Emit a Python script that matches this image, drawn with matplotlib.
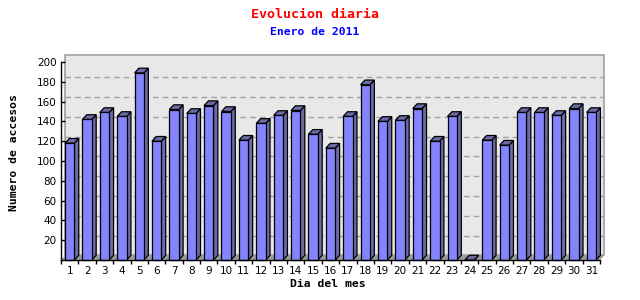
import matplotlib
matplotlib.use("Agg")
import matplotlib.pyplot as plt
from matplotlib.patches import Polygon, Rectangle
import numpy as np

days = list(range(1, 32))
day_labels = [str(d) for d in days]
visits = [118, 142, 149, 145, 189, 120, 152, 148, 156, 150,
          121, 138, 146, 151, 127, 113, 145, 177, 140, 141,
          153, 120, 145, 0, 121, 116, 149, 149, 146, 153, 149]
y_ticks = [20, 40, 60, 80, 100, 120, 140, 160, 180, 200]

title = "Evolucion diaria"
subtitle = "Enero de 2011"
xlabel = "Dia del mes"
ylabel = "Numero de accesos"

W, H = 640, 300
fig = plt.figure(figsize=(W / 100, H / 100), dpi=100)
fig.patch.set_facecolor("white")

# front plane of the plot area in pixels
x0, x1 = 61, 600
y_zero, y_top = 260, 62
ax = fig.add_axes([x0 / W, (H - y_zero) / H, (x1 - x0) / W, (y_zero - y_top) / H])
ax.set_xlim(0.5, 31.5)
ax.set_ylim(0, 200)
ax.set_facecolor("none")

sx = 31.0 / (x1 - x0)      # data units per pixel, x
sy = 200.0 / (y_zero - y_top)  # data units per pixel, y
dx, dy = 4.4 * sx, 4.7 * sy

# back panel
back = Rectangle((0.5 + dx, dy), 31 + 0.0, 200 + 6.7 * sy - dy + 0.0,
                 facecolor="#E8E8E8", edgecolor="#A0A0A0", lw=1.2,
                 clip_on=False, zorder=0)
ax.add_patch(back)
# dashed grid on back panel
for v in y_ticks[:-1]:
    ax.plot([0.5 + dx, 31.5 + dx], [v + dy, v + dy], color="#A0A0A0",
            lw=1, ls=(0, (4, 3)), clip_on=False, zorder=0.5)
# floor
floor = Polygon([(0.5, 0), (31.5, 0), (31.5 + dx, dy), (0.5 + dx, dy)],
                closed=True, facecolor="#9A9A9A", edgecolor="none",
                clip_on=False, zorder=1)
ax.add_patch(floor)

front_c = "#8484FF"
dark_c = "#6B6BA6"
w = 0.54
for x, v in zip(days, visits):
    l, r = x - w / 2, x + w / 2
    side = Polygon([(r, 0), (r + dx, dy), (r + dx, v + dy), (r, v)], closed=True,
                   facecolor=dark_c, edgecolor="black", lw=0.9, clip_on=False, zorder=2)
    top = Polygon([(l, v), (l + dx, v + dy), (r + dx, v + dy), (r, v)], closed=True,
                  facecolor=dark_c, edgecolor="black", lw=0.9, clip_on=False, zorder=2)
    ax.add_patch(side)
    ax.add_patch(top)
ax.bar(days, visits, width=w, color=front_c, edgecolor="black", lw=0.9,
       zorder=3, clip_on=False)

for s in ["top", "right"]:
    ax.spines[s].set_visible(False)
for s in ["left", "bottom"]:
    ax.spines[s].set_color("black")
    ax.spines[s].set_linewidth(1)
    ax.spines[s].set_zorder(4)

ax.set_yticks(y_ticks)
ax.set_yticklabels([str(t) for t in y_ticks])
ax.tick_params(axis="y", direction="in", length=3, width=1, labelsize=7.5, pad=3)

ax.set_xticks(np.arange(0.5, 32, 1.0))
ax.set_xticklabels([])
ax.set_xticks(days, minor=True)
ax.set_xticklabels(day_labels, minor=True)
ax.tick_params(axis="x", which="major", direction="out", length=3, width=1)
ax.tick_params(axis="x", which="minor", length=0, labelsize=7.5, pad=4)

mono = "DejaVu Sans Mono"
fig.text(315 / W, 1 - 14 / H, title, color="red", family=mono,
         fontweight="bold", fontsize=9.5, ha="center", va="center")
fig.text(315 / W, 1 - 32 / H, subtitle, color="blue", family=mono,
         fontweight="bold", fontsize=8.2, ha="center", va="center")
fig.text(328 / W, 1 - 284 / H, xlabel, color="black", family=mono,
         fontweight="bold", fontsize=8.2, ha="center", va="center")
fig.text(14 / W, 1 - 153 / H, ylabel, color="black", family=mono,
         fontweight="bold", fontsize=8.2, ha="center", va="center", rotation=90)

fig.savefig("out.png", dpi=100)
